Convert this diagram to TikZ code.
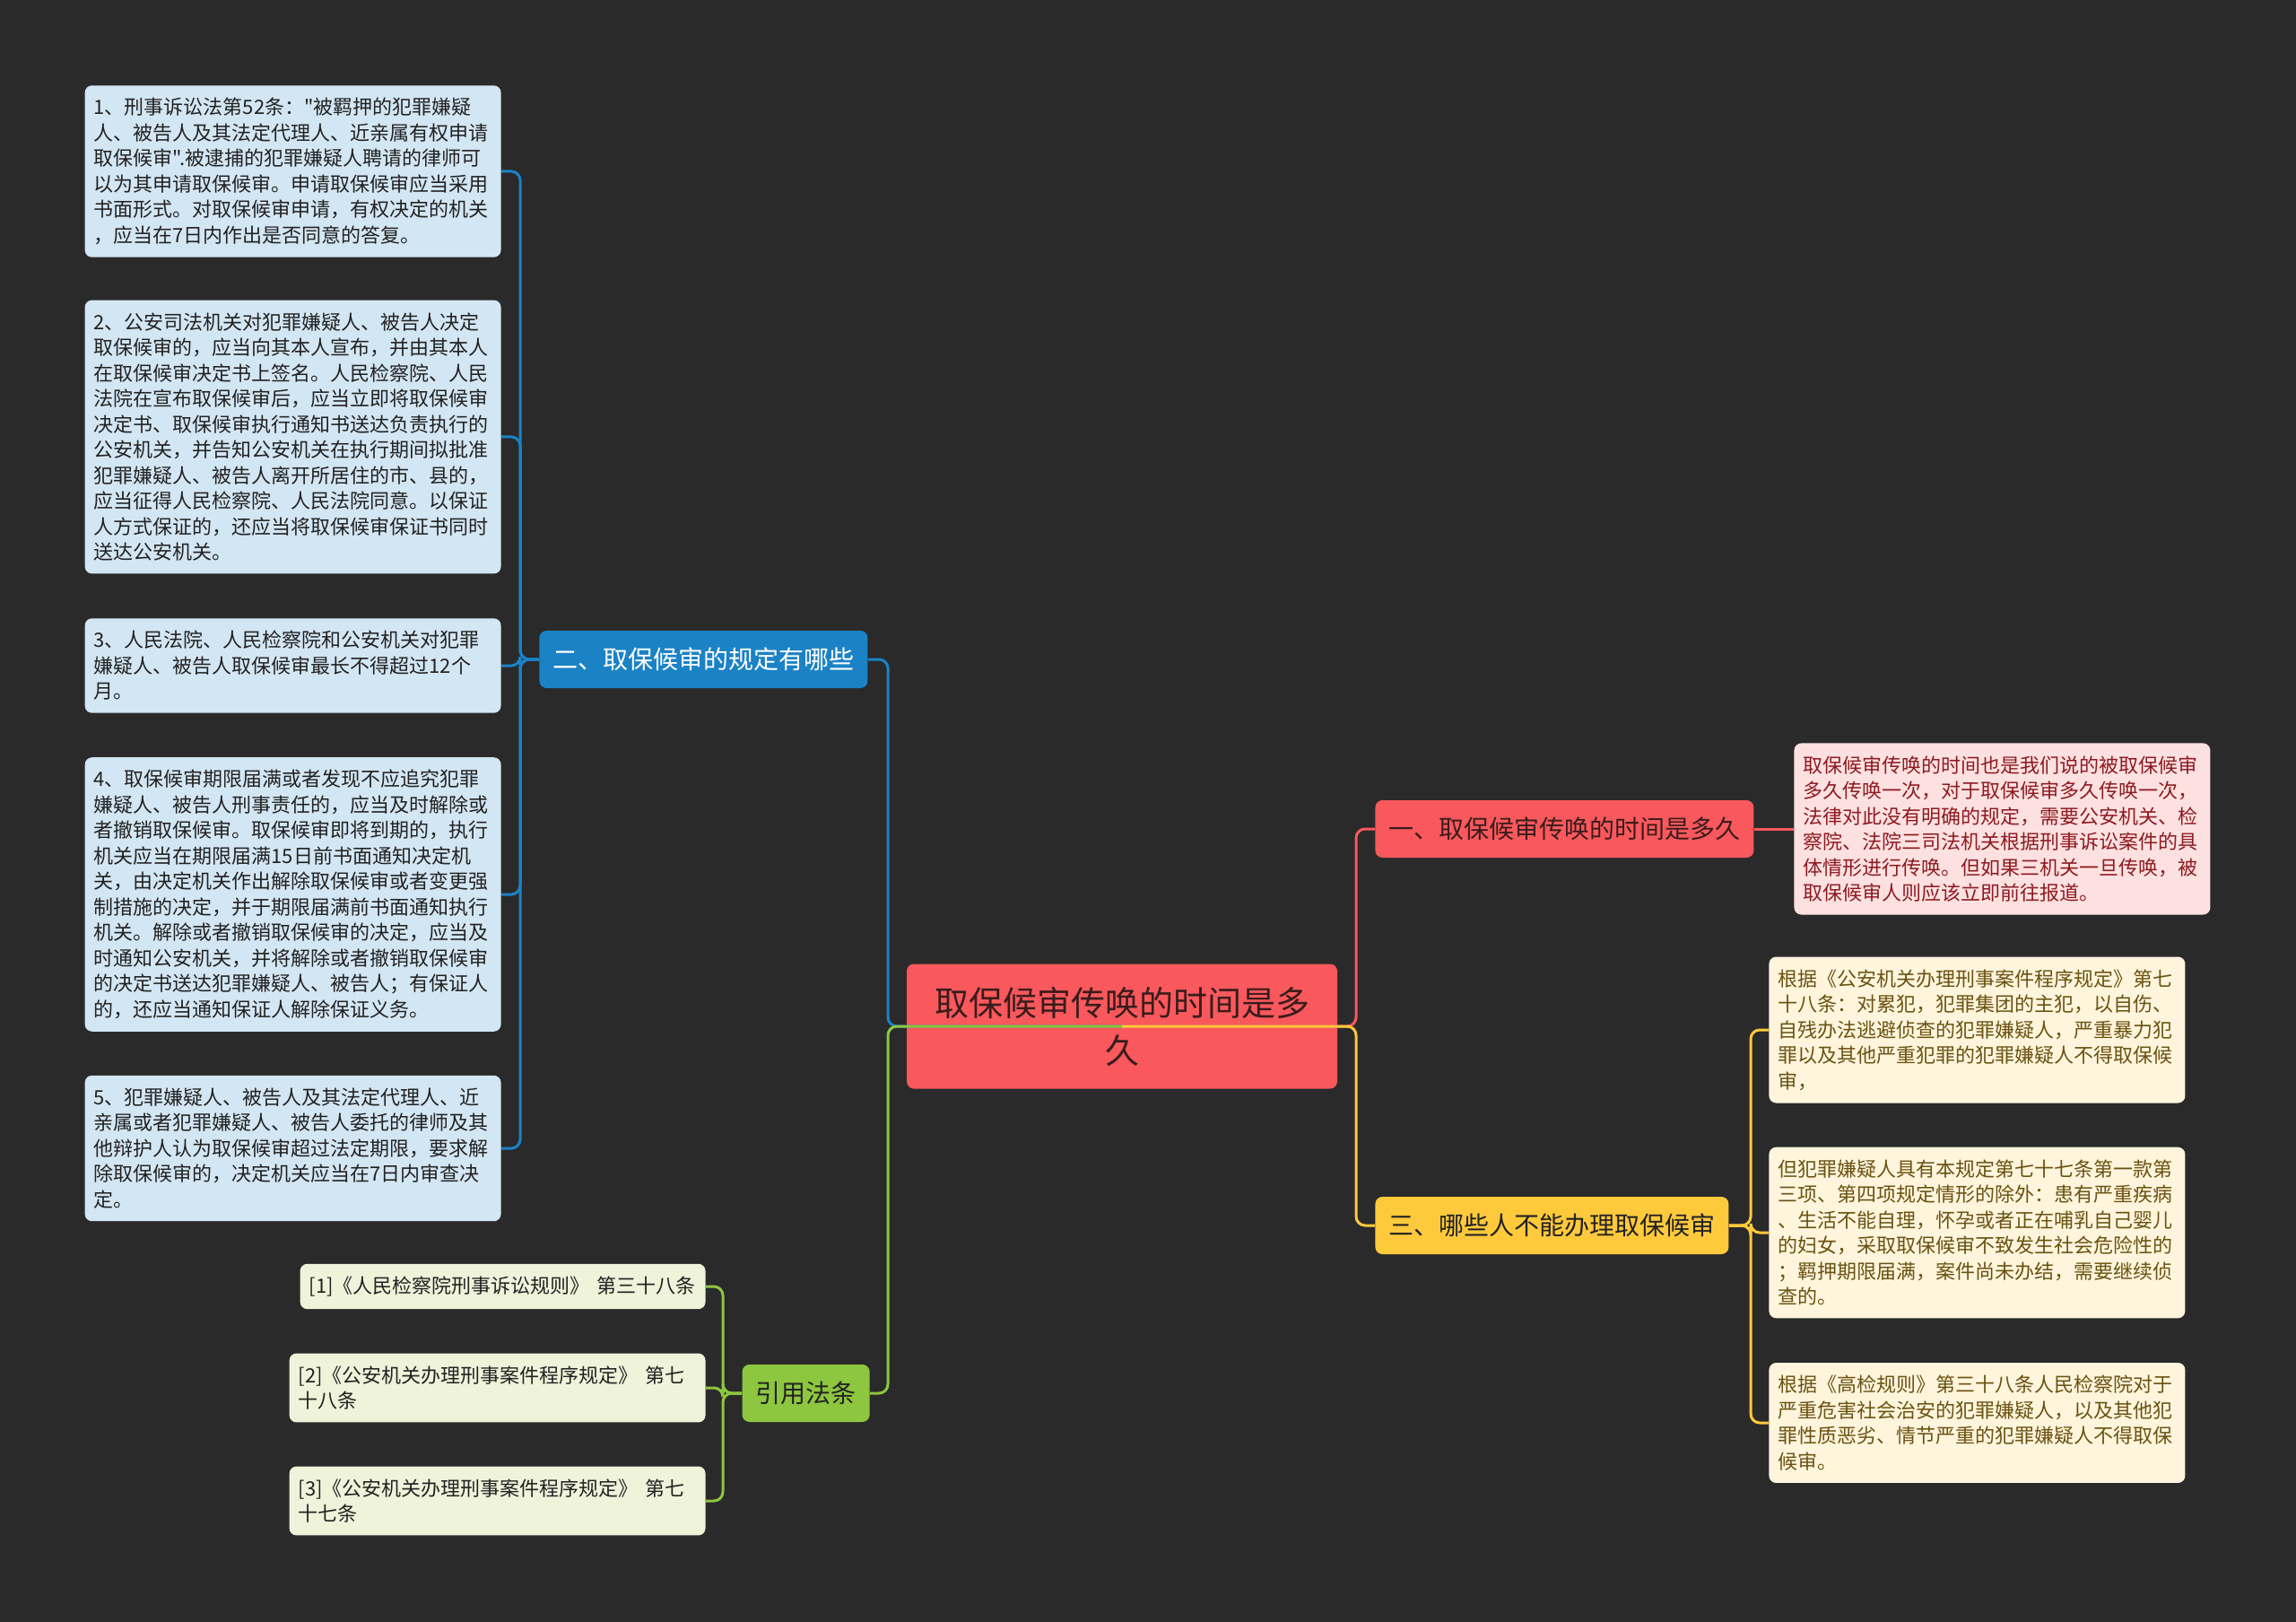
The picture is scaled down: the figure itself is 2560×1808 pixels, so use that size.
\documentclass[tikz,border=0pt]{standalone}
\usepackage{fontspec}
\setmainfont{Noto Sans CJK SC}
\newfontfamily\cjk{Noto Sans CJK SC}

\definecolor{Bg}{HTML}{2A2A2A}
\definecolor{Redmain}{HTML}{F9585C}
\definecolor{Redlight}{HTML}{FDE1E1}
\definecolor{Redink}{HTML}{8E1A20}
\definecolor{Rootink}{HTML}{3A1C1C}
\definecolor{Bluemain}{HTML}{1B82C6}
\definecolor{Bluelight}{HTML}{D3E6F3}
\definecolor{Yellowmain}{HTML}{FFC93C}
\definecolor{Yellowlight}{HTML}{FEF5DC}
\definecolor{Yellowink}{HTML}{6B5212}
\definecolor{Greenmain}{HTML}{8DC63F}
\definecolor{Greenlight}{HTML}{EEF3DA}
\definecolor{Ink}{HTML}{222222}

\begin{document}
\begin{tikzpicture}
[
x=0.5pt, y=-0.5pt,
Root/.style={rectangle, rounded corners=4pt, fill=Redmain, text=Rootink, font=\cjk\fontsize{19}{26.5}\selectfont, align=center, minimum width=240pt, minimum height=69.5pt, inner sep=0pt},
Topic/.style={rectangle, rounded corners=4pt, font=\cjk\fontsize{14}{17}\selectfont, inner xsep=7.5pt, inner ysep=0pt, minimum height=32pt},
Leaf/.style={rectangle, rounded corners=4pt, font=\cjk\fontsize{11}{14.25}\selectfont, align=left, text width=222pt, inner xsep=5pt, inner ysep=7pt},
Link/.style={line width=1.5pt, rounded corners=5pt},
%Link/.style={line width=2pt},
]

\fill[Bg] (0,0) rectangle (2560,1808);
\useasboundingbox (0,0) rectangle (2560,1808);

\node[Root] (root) at (1251,1144) {取保候审传唤的时间是多\\久};

\node[Topic, fill=Bluemain, text=white, anchor=west] (tBlue) at (601,735) {二、取保候审的规定有哪些};
\node[Topic, fill=Redmain, text=Rootink, anchor=west] (tRed) at (1533,924) {一、取保候审传唤的时间是多久};
\node[Topic, fill=Yellowmain, text=Ink, anchor=west] (tYellow) at (1533,1366) {三、哪些人不能办理取保候审};
\node[Topic, fill=Greenmain, text=Ink, anchor=east] (tGreen) at (970,1553) {引用法条};

\node[Leaf, fill=Bluelight, text=Ink, anchor=east] (b1) at (559,191) {1、刑事诉讼法第52条："被羁押的犯罪嫌疑\\
人、被告人及其法定代理人、近亲属有权申请\\
取保候审".被逮捕的犯罪嫌疑人聘请的律师可\\
以为其申请取保候审。申请取保候审应当采用\\
书面形式。对取保候审申请，有权决定的机关\\
，应当在7日内作出是否同意的答复。};
\node[Leaf, fill=Bluelight, text=Ink, anchor=east] (b2) at (559,487) {2、公安司法机关对犯罪嫌疑人、被告人决定\\
取保候审的，应当向其本人宣布，并由其本人\\
在取保候审决定书上签名。人民检察院、人民\\
法院在宣布取保候审后，应当立即将取保候审\\
决定书、取保候审执行通知书送达负责执行的\\
公安机关，并告知公安机关在执行期间拟批准\\
犯罪嫌疑人、被告人离开所居住的市、县的，\\
应当征得人民检察院、人民法院同意。以保证\\
人方式保证的，还应当将取保候审保证书同时\\
送达公安机关。};
\node[Leaf, fill=Bluelight, text=Ink, anchor=east] (b3) at (559,742) {3、人民法院、人民检察院和公安机关对犯罪\\
嫌疑人、被告人取保候审最长不得超过12个\\
月。};
\node[Leaf, fill=Bluelight, text=Ink, anchor=east] (b4) at (559,997) {4、取保候审期限届满或者发现不应追究犯罪\\
嫌疑人、被告人刑事责任的，应当及时解除或\\
者撤销取保候审。取保候审即将到期的，执行\\
机关应当在期限届满15日前书面通知决定机\\
关，由决定机关作出解除取保候审或者变更强\\
制措施的决定，并于期限届满前书面通知执行\\
机关。解除或者撤销取保候审的决定，应当及\\
时通知公安机关，并将解除或者撤销取保候审\\
的决定书送达犯罪嫌疑人、被告人；有保证人\\
的，还应当通知保证人解除保证义务。};
\node[Leaf, fill=Bluelight, text=Ink, anchor=east] (b5) at (559,1280) {5、犯罪嫌疑人、被告人及其法定代理人、近\\
亲属或者犯罪嫌疑人、被告人委托的律师及其\\
他辩护人认为取保候审超过法定期限，要求解\\
除取保候审的，决定机关应当在7日内审查决\\
定。};

\node[Leaf, fill=Redlight, text=Redink, anchor=west] (r1) at (2000,924) {取保候审传唤的时间也是我们说的被取保候审\\
多久传唤一次，对于取保候审多久传唤一次，\\
法律对此没有明确的规定，需要公安机关、检\\
察院、法院三司法机关根据刑事诉讼案件的具\\
体情形进行传唤。但如果三机关一旦传唤，被\\
取保候审人则应该立即前往报道。};

\node[Leaf, fill=Yellowlight, text=Yellowink, anchor=west] (y1) at (1972,1148) {根据《公安机关办理刑事案件程序规定》第七\\
十八条：对累犯，犯罪集团的主犯，以自伤、\\
自残办法逃避侦查的犯罪嫌疑人，严重暴力犯\\
罪以及其他严重犯罪的犯罪嫌疑人不得取保候\\
审，};
\node[Leaf, fill=Yellowlight, text=Yellowink, anchor=west] (y2) at (1972,1374) {但犯罪嫌疑人具有本规定第七十七条第一款第\\
三项、第四项规定情形的除外：患有严重疾病\\
、生活不能自理，怀孕或者正在哺乳自己婴儿\\
的妇女，采取取保候审不致发生社会危险性的\\
；羁押期限届满，案件尚未办结，需要继续侦\\
查的。};
\node[Leaf, fill=Yellowlight, text=Yellowink, anchor=west] (y3) at (1972,1586) {根据《高检规则》第三十八条人民检察院对于\\
严重危害社会治安的犯罪嫌疑人，以及其他犯\\
罪性质恶劣、情节严重的犯罪嫌疑人不得取保\\
候审。};

\node[Leaf, fill=Greenlight, text=Ink, anchor=east, text width=216pt] (g1) at (787,1434) {[1]《人民检察院刑事诉讼规则》 第三十八条};
\node[Leaf, fill=Greenlight, text=Ink, anchor=east] (g2) at (787,1547) {[2]《公安机关办理刑事案件程序规定》 第七\\
十八条};
\node[Leaf, fill=Greenlight, text=Ink, anchor=east] (g3) at (787,1673) {[3]《公安机关办理刑事案件程序规定》 第七\\
十七条};

\coordinate (busL) at (990,0);
\coordinate (busR) at (1512,0);
\coordinate (busB) at (580,0);
\coordinate (busY) at (1952,0);
\coordinate (busG) at (806,0);

\draw[Link, Bluemain] (root.center) -- (busL |- root.center) -- (busL |- tBlue.east) -- (tBlue.east);
\draw[Link, Redmain] (root.center) -- (busR |- root.center) -- (busR |- tRed.west) -- (tRed.west);
\draw[Link, Yellowmain] (root.center) -- (busR |- root.center) -- (busR |- tYellow.west) -- (tYellow.west);
\draw[Link, Greenmain] (root.center) -- (busL |- root.center) -- (busL |- tGreen.east) -- (tGreen.east);

\foreach \n in {b1,b2,b3,b4,b5}
  \draw[Link, Bluemain] (tBlue.west) -- (busB |- tBlue.west) -- (busB |- \n.east) -- (\n.east);
\draw[Link, Redmain] (tRed.east) -- (r1.west);
\foreach \n in {y1,y2,y3}
  \draw[Link, Yellowmain] (tYellow.east) -- (busY |- tYellow.east) -- (busY |- \n.west) -- (\n.west);
\foreach \n in {g1,g2,g3}
  \draw[Link, Greenmain] (tGreen.west) -- (busG |- tGreen.west) -- (busG |- \n.east) -- (\n.east);

\end{tikzpicture}
\end{document}
